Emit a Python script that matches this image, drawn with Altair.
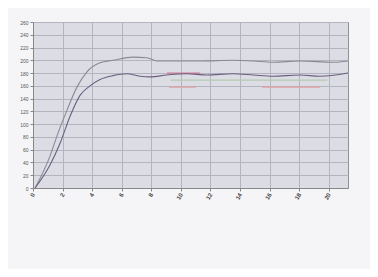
import altair as alt
import pandas as pd

# time (min) and temperature values
t_upper = [0.14, 1.15, 1.69, 2.3, 2.97, 3.65, 4.53, 5.4, 6.76, 7.7, 8.38, 9.46, 11.3, 13.5, 14.9, 16.2, 18.05, 20.3, 21.3]
v_upper = [0, 50, 86, 122, 158, 182, 196, 200, 205, 204, 199, 199, 199, 200, 199, 197, 199, 197, 199]
t_lower = [0.14, 1.15, 1.83, 2.5, 3.18, 3.85, 4.53, 5.4, 6.35, 7.23, 7.9, 9.06, 10.4, 11.76, 13.5, 14.9, 16.2, 18.05, 19.4, 21.3]
v_lower = [0, 36, 70, 112, 145, 160, 170, 176, 179, 175, 174, 177, 179, 177, 179, 177, 175, 177, 175, 180]
t_red = [9.06, 11.3]
v_red = [180, 180]
t_pink1 = [9.2, 11.0]
v_pink1 = [158, 158]
t_pink2 = [15.5, 19.4]
v_pink2 = [158, 158]
t_green = [9.3, 19.9]
v_green = [169, 169]

x_ticks = [0, 2, 4, 6, 8, 10, 12, 14, 16, 18, 20]
y_ticks = [0, 20, 40, 60, 80, 100, 120, 140, 160, 180, 200, 220, 240, 260]


def series(ts, vs, name):
    return pd.DataFrame({"t": ts, "v": vs, "s": name})


xs = alt.X("t:Q", scale=alt.Scale(domain=[0, 21.3], nice=False),
           axis=alt.Axis(values=x_ticks, title=None, labelAngle=-60, labelFontSize=6,
                         labelFontWeight="bold",
                         labelColor="#444", grid=True, gridColor="#b4b4c0", tickColor="#888",
                         domainColor="#888", labelPadding=2, tickSize=3))
ys = alt.Y("v:Q", scale=alt.Scale(domain=[0, 260], nice=False),
           axis=alt.Axis(values=y_ticks, title=None, labelFontSize=5, labelColor="#555",
                         grid=True, gridColor="#b4b4c0", tickColor="#888", domainColor="#888",
                         labelPadding=2, tickSize=3))

def line(df, color, width=1.0):
    return alt.Chart(df).mark_line(color=color, strokeWidth=width, interpolate="monotone").encode(x=xs, y=ys)

layers = [
    line(series(t_green, v_green, "g"), "#b4ccb0", 1.2),
    line(series(t_pink1, v_pink1, "p1"), "#e0a0a0", 1.2),
    line(series(t_pink2, v_pink2, "p2"), "#e0a0a0", 1.2),
    line(series(t_red, v_red, "r"), "#d07890", 1.2),
    line(series(t_upper, v_upper, "u"), "#8a8a94", 1.1),
    line(series(t_lower, v_lower, "l"), "#6b6080", 1.1),
]

chart = alt.layer(*layers).properties(
    width=315, height=166,
    autosize=alt.AutoSizeParams(type="none"),
    padding={"left": 25, "top": 14, "right": 22, "bottom": 81},
    background="#f5f5f7",
).configure_view(fill="#dcdce4", stroke="#909098")

chart.save("out.html", embed_options={"renderer": "svg", "actions": False})
